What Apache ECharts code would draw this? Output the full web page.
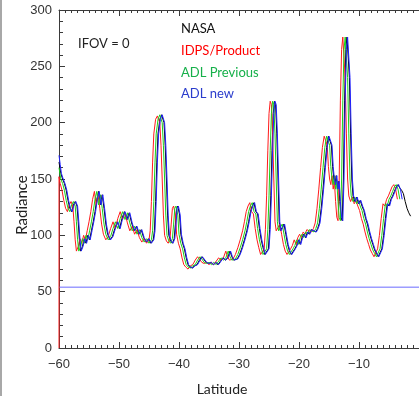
<!DOCTYPE html>
<html>
<head>
<meta charset="utf-8">
<script src="https://cdn.jsdelivr.net/npm/echarts@6/dist/echarts.min.js"></script>
<style>
html,body{margin:0;padding:0;background:#fff;}
#chart{width:419px;height:396px;}
</style>
</head>
<body>
<div id="chart"></div>
<script>
// ---- data: [latitude, radiance] ----
const nasa = [[-60.0,165],[-59.7,155],[-59.4,150],[-59.1,146],[-58.8,140],[-58.5,131],[-58.2,124],[-57.9,121],[-57.6,127],[-57.3,130],[-57.0,126],[-56.8,112],[-56.6,96],[-56.4,86],[-56.1,90],[-55.8,97],[-55.5,93],[-55.2,100],[-54.9,96],[-54.6,104],[-54.3,112],[-54.0,121],[-53.7,132],[-53.4,139],[-53.1,127],[-52.8,136],[-52.5,124],[-52.2,110],[-51.9,101],[-51.5,96],[-51.1,99],[-50.7,106],[-50.3,112],[-49.9,106],[-49.5,115],[-49.1,121],[-48.7,114],[-48.3,120],[-47.9,111],[-47.5,104],[-47.1,108],[-46.7,101],[-46.3,105],[-45.9,98],[-45.5,94],[-45.1,97],[-44.7,93],[-44.3,96],[-44.1,104],[-43.9,130],[-43.7,165],[-43.5,190],[-43.2,203],[-42.9,207],[-42.7,208],[-42.5,200],[-42.3,180],[-42.1,150],[-41.9,118],[-41.7,100],[-41.4,95],[-41.1,93],[-40.8,97],[-40.6,110],[-40.4,124],[-40.2,126],[-39.9,118],[-39.7,101],[-39.4,93],[-39.1,88],[-38.8,80],[-38.5,74],[-38.2,72],[-37.8,71],[-37.4,73],[-37.0,74],[-36.6,78],[-36.2,81],[-35.9,79],[-35.5,76],[-35.1,75],[-34.7,76],[-34.3,74],[-33.9,76],[-33.5,74],[-33.1,77],[-32.7,80],[-32.3,78],[-31.9,80],[-31.5,86],[-31.2,81],[-30.9,78],[-30.6,77],[-30.3,79],[-29.9,83],[-29.5,89],[-29.1,96],[-28.7,104],[-28.4,112],[-28.1,121],[-27.8,126],[-27.5,129],[-27.2,121],[-26.9,119],[-26.6,106],[-26.3,96],[-26.0,89],[-25.7,83],[-25.4,82],[-25.1,88],[-24.9,105],[-24.7,135],[-24.5,175],[-24.3,208],[-24.1,219],[-23.9,216],[-23.7,190],[-23.5,150],[-23.3,112],[-23.1,104],[-22.8,107],[-22.5,110],[-22.2,101],[-21.9,92],[-21.6,86],[-21.3,83],[-21.0,82],[-20.7,88],[-20.4,91],[-20.1,96],[-19.8,92],[-19.5,98],[-19.2,101],[-18.9,98],[-18.6,103],[-18.3,101],[-18.0,105],[-17.6,104],[-17.2,103],[-16.9,106],[-16.6,111],[-16.3,124],[-16.0,141],[-15.7,160],[-15.4,178],[-15.1,188],[-14.8,189],[-14.6,180],[-14.4,161],[-14.2,150],[-14.0,145],[-13.8,153],[-13.6,141],[-13.4,148],[-13.2,130],[-13.0,116],[-12.8,113],[-12.6,150],[-12.4,220],[-12.2,265],[-12.0,276],[-11.8,276],[-11.6,240],[-11.4,190],[-11.2,150],[-11.0,135],[-10.7,130],[-10.4,134],[-10.1,128],[-9.8,131],[-9.5,126],[-9.2,122],[-8.9,115],[-8.6,110],[-8.3,103],[-8.0,97],[-7.7,92],[-7.4,87],[-7.1,84],[-6.8,81],[-6.5,82],[-6.2,88],[-5.9,100],[-5.6,115],[-5.3,128],[-5.0,126],[-4.7,132],[-4.4,135],[-4.1,139],[-3.8,143],[-3.5,145],[-3.2,142],[-2.9,140],[-2.6,137],[-2.3,130],[-2.0,124],[-1.7,120],[-1.4,117]];

const idpsProduct = [[-60.0,0],[-60.0,152],[-59.8,146],[-59.5,140],[-59.2,131],[-58.9,124],[-58.6,121],[-58.3,127],[-58.0,130],[-57.7,126],[-57.5,112],[-57.3,96],[-57.1,86],[-56.8,90],[-56.5,97],[-56.2,93],[-55.9,100],[-55.6,96],[-55.3,104],[-55.0,112],[-54.7,121],[-54.4,132],[-54.1,139],[-53.8,127],[-53.5,136],[-53.2,124],[-52.9,110],[-52.6,101],[-52.2,96],[-51.8,99],[-51.4,106],[-51.0,112],[-50.6,106],[-50.2,115],[-49.8,121],[-49.4,114],[-49.0,120],[-48.6,111],[-48.2,104],[-47.8,108],[-47.4,101],[-47.0,105],[-46.6,98],[-46.2,94],[-45.8,97],[-45.4,93],[-45.0,96],[-44.8,104],[-44.6,130],[-44.4,165],[-44.2,190],[-43.9,203],[-43.6,206],[-43.4,207],[-43.2,200],[-43.0,180],[-42.8,150],[-42.6,118],[-42.4,100],[-42.1,95],[-41.8,93],[-41.5,97],[-41.3,110],[-41.1,124],[-40.9,126],[-40.6,118],[-40.4,101],[-40.1,93],[-39.8,88],[-39.5,80],[-39.2,74],[-38.9,72],[-38.5,70],[-38.1,73],[-37.7,74],[-37.3,78],[-36.9,81],[-36.6,79],[-36.2,76],[-35.8,75],[-35.4,76],[-35.0,74],[-34.6,76],[-34.2,74],[-33.8,77],[-33.4,80],[-33.0,78],[-32.6,80],[-32.2,86],[-31.9,81],[-31.6,78],[-31.3,77],[-31.0,79],[-30.6,83],[-30.2,89],[-29.8,96],[-29.4,104],[-29.1,112],[-28.8,121],[-28.5,126],[-28.2,129],[-27.9,121],[-27.6,119],[-27.3,106],[-27.0,96],[-26.7,89],[-26.4,83],[-26.1,82],[-25.8,88],[-25.6,105],[-25.4,135],[-25.2,175],[-25.0,208],[-24.8,219],[-24.6,216],[-24.4,190],[-24.2,150],[-24.0,112],[-23.8,104],[-23.5,107],[-23.2,110],[-22.9,101],[-22.6,92],[-22.3,86],[-22.0,83],[-21.7,82],[-21.4,88],[-21.1,91],[-20.8,96],[-20.5,92],[-20.2,98],[-19.9,101],[-19.6,98],[-19.3,103],[-19.0,101],[-18.7,105],[-18.3,104],[-17.9,103],[-17.6,106],[-17.3,111],[-17.0,124],[-16.7,141],[-16.4,160],[-16.1,178],[-15.8,188],[-15.5,189],[-15.3,180],[-15.1,161],[-14.9,150],[-14.7,145],[-14.5,153],[-14.3,141],[-14.1,148],[-13.9,130],[-13.7,116],[-13.5,113],[-13.3,150],[-13.1,220],[-12.9,265],[-12.7,276],[-12.5,276],[-12.3,240],[-12.1,190],[-11.9,150],[-11.7,135],[-11.4,130],[-11.1,134],[-10.8,128],[-10.5,131],[-10.2,126],[-9.9,122],[-9.6,115],[-9.3,110],[-9.0,103],[-8.7,97],[-8.4,92],[-8.1,87],[-7.8,84],[-7.5,81],[-7.2,82],[-6.9,88],[-6.6,100],[-6.3,115],[-6.0,128],[-5.7,126],[-5.4,132],[-5.1,135],[-4.8,139],[-4.5,143],[-4.2,145],[-3.9,141],[-3.6,132]];

const adlPrevious = [[-60.0,160],[-59.7,150],[-59.4,146],[-59.1,140],[-58.8,131],[-58.5,124],[-58.2,121],[-57.9,127],[-57.6,130],[-57.3,126],[-57.1,112],[-56.9,96],[-56.7,86],[-56.4,90],[-56.1,97],[-55.8,93],[-55.5,100],[-55.2,96],[-54.9,104],[-54.6,112],[-54.3,121],[-54.0,132],[-53.7,139],[-53.4,127],[-53.1,136],[-52.8,124],[-52.5,110],[-52.2,101],[-51.8,96],[-51.4,99],[-51.0,106],[-50.6,112],[-50.2,106],[-49.8,115],[-49.4,121],[-49.0,114],[-48.6,120],[-48.2,111],[-47.8,104],[-47.4,108],[-47.0,101],[-46.6,105],[-46.2,98],[-45.8,94],[-45.4,97],[-45.0,93],[-44.6,96],[-44.4,104],[-44.2,130],[-44.0,165],[-43.8,190],[-43.5,203],[-43.2,207],[-43.0,207],[-42.8,200],[-42.6,180],[-42.4,150],[-42.2,118],[-42.0,100],[-41.7,95],[-41.4,93],[-41.1,97],[-40.9,110],[-40.7,124],[-40.5,126],[-40.2,118],[-40.0,101],[-39.7,93],[-39.4,88],[-39.1,80],[-38.8,74],[-38.5,72],[-38.1,71],[-37.7,73],[-37.3,74],[-36.9,78],[-36.5,81],[-36.2,79],[-35.8,76],[-35.4,75],[-35.0,76],[-34.6,74],[-34.2,76],[-33.8,74],[-33.4,77],[-33.0,80],[-32.6,78],[-32.2,80],[-31.8,86],[-31.5,81],[-31.2,78],[-30.9,77],[-30.6,79],[-30.2,83],[-29.8,89],[-29.4,96],[-29.0,104],[-28.7,112],[-28.4,121],[-28.1,126],[-27.8,129],[-27.5,121],[-27.2,119],[-26.9,106],[-26.6,96],[-26.3,89],[-26.0,83],[-25.7,82],[-25.4,88],[-25.2,105],[-25.0,135],[-24.8,175],[-24.6,208],[-24.4,219],[-24.2,216],[-24.0,190],[-23.8,150],[-23.6,112],[-23.4,104],[-23.1,107],[-22.8,110],[-22.5,101],[-22.2,92],[-21.9,86],[-21.6,83],[-21.3,82],[-21.0,88],[-20.7,91],[-20.4,96],[-20.1,92],[-19.8,98],[-19.5,101],[-19.2,98],[-18.9,103],[-18.6,101],[-18.3,105],[-17.9,104],[-17.5,103],[-17.2,106],[-16.9,111],[-16.6,124],[-16.3,141],[-16.0,160],[-15.7,178],[-15.4,188],[-15.1,189],[-14.9,180],[-14.7,161],[-14.5,150],[-14.3,145],[-14.1,153],[-13.9,141],[-13.7,148],[-13.5,130],[-13.3,116],[-13.1,113],[-12.9,150],[-12.7,220],[-12.5,265],[-12.3,276],[-12.1,276],[-11.9,240],[-11.7,190],[-11.5,150],[-11.3,135],[-11.0,130],[-10.7,134],[-10.4,128],[-10.1,131],[-9.8,126],[-9.5,122],[-9.2,115],[-8.9,110],[-8.6,103],[-8.3,97],[-8.0,92],[-7.7,87],[-7.4,84],[-7.1,81],[-6.8,82],[-6.5,88],[-6.2,100],[-5.9,115],[-5.6,128],[-5.3,126],[-5.0,132],[-4.7,135],[-4.4,139],[-4.1,143],[-3.8,145],[-3.5,141],[-3.2,132]];

const adlNew = [[-60.0,171],[-59.8,163],[-59.6,155],[-59.3,150],[-59.0,146],[-58.7,140],[-58.4,131],[-58.1,124],[-57.8,121],[-57.5,127],[-57.2,130],[-56.9,126],[-56.7,112],[-56.5,96],[-56.3,86],[-56.0,90],[-55.7,97],[-55.4,93],[-55.1,100],[-54.8,96],[-54.5,104],[-54.2,112],[-53.9,121],[-53.6,132],[-53.3,139],[-53.0,127],[-52.7,136],[-52.4,124],[-52.1,110],[-51.8,101],[-51.4,96],[-51.0,99],[-50.6,106],[-50.2,112],[-49.8,106],[-49.4,115],[-49.0,121],[-48.6,114],[-48.2,120],[-47.8,111],[-47.4,104],[-47.0,108],[-46.6,101],[-46.2,105],[-45.8,98],[-45.4,94],[-45.0,97],[-44.6,93],[-44.2,96],[-44.0,104],[-43.8,130],[-43.6,165],[-43.4,190],[-43.1,203],[-42.8,207],[-42.6,208],[-42.4,200],[-42.2,180],[-42.0,150],[-41.8,118],[-41.6,100],[-41.3,95],[-41.0,93],[-40.7,97],[-40.5,110],[-40.3,124],[-40.1,126],[-39.8,118],[-39.6,101],[-39.3,93],[-39.0,88],[-38.7,80],[-38.4,74],[-38.1,72],[-37.7,71],[-37.3,73],[-36.9,74],[-36.5,78],[-36.1,81],[-35.8,79],[-35.4,76],[-35.0,75],[-34.6,76],[-34.2,74],[-33.8,76],[-33.4,74],[-33.0,77],[-32.6,80],[-32.2,78],[-31.8,80],[-31.4,86],[-31.1,81],[-30.8,78],[-30.5,77],[-30.2,79],[-29.8,83],[-29.4,89],[-29.0,96],[-28.6,104],[-28.3,112],[-28.0,121],[-27.7,126],[-27.4,129],[-27.1,121],[-26.8,119],[-26.5,106],[-26.2,96],[-25.9,89],[-25.6,83],[-25.3,82],[-25.0,88],[-24.8,105],[-24.6,135],[-24.4,175],[-24.2,208],[-24.0,219],[-23.8,216],[-23.6,190],[-23.4,150],[-23.2,112],[-23.0,104],[-22.7,107],[-22.4,110],[-22.1,101],[-21.8,92],[-21.5,86],[-21.2,83],[-20.9,82],[-20.6,88],[-20.3,91],[-20.0,96],[-19.7,92],[-19.4,98],[-19.1,101],[-18.8,98],[-18.5,103],[-18.2,101],[-17.9,105],[-17.5,104],[-17.1,103],[-16.8,106],[-16.5,111],[-16.2,124],[-15.9,141],[-15.6,160],[-15.3,178],[-15.0,188],[-14.7,189],[-14.5,180],[-14.3,161],[-14.1,150],[-13.9,145],[-13.7,153],[-13.5,141],[-13.3,148],[-13.1,130],[-12.9,116],[-12.7,113],[-12.5,150],[-12.3,220],[-12.1,265],[-11.9,276],[-11.7,276],[-11.5,240],[-11.3,190],[-11.1,150],[-10.9,135],[-10.6,130],[-10.3,134],[-10.0,128],[-9.7,131],[-9.4,126],[-9.1,122],[-8.8,115],[-8.5,110],[-8.2,103],[-7.9,97],[-7.6,92],[-7.3,87],[-7.0,84],[-6.7,81],[-6.4,82],[-6.1,88],[-5.8,100],[-5.5,115],[-5.2,128],[-4.9,126],[-4.6,132],[-4.3,135],[-4.0,139],[-3.7,143],[-3.4,145],[-3.1,141],[-2.8,132]];

const referenceLevel = [[-60, 54], [0, 54]];
const xTicks = [-60, -50, -40, -30, -20, -10];
const yTicks = [0, 50, 100, 150, 200, 250, 300];
const legendNames = ['NASA', 'IDPS/Product', 'ADL Previous', 'ADL new'];
const annotation = 'IFOV = 0';

// ---- chart ----
const colors = ['#000000', '#ff1a1a', '#1ad21a', '#2020ff'];
const textColors = ['#111111', '#ff0000', '#16b04a', '#2a3ccc'];
const chart = echarts.init(document.getElementById('chart'), null, {renderer: 'canvas'});
const axisColor = '#3a3a3a';
const minus = v => (v < 0 ? '\u2212' + (-v) : String(v));

const seriesData = [nasa, idpsProduct, adlPrevious, adlNew];
const series = seriesData.map((d, i) => ({
  name: legendNames[i], type: 'line', data: d, showSymbol: false, symbol: 'none',
  lineStyle: {color: colors[i], width: 1}, itemStyle: {color: colors[i]},
  animation: false, z: 3 + i
}));
series.unshift({
  name: 'reference', type: 'line', data: referenceLevel, showSymbol: false, symbol: 'none',
  lineStyle: {color: '#6b6bff', width: 1}, itemStyle: {color: '#6b6bff'}, animation: false, z: 2
});

const textFont = {fontSize: 13, fontFamily: 'Lato'};
chart.setOption({
  backgroundColor: '#ffffff',
  animation: false,
  grid: {left: 59, right: -9, top: 10, bottom: 48},
  xAxis: [{
    type: 'value', min: -60, max: 0, interval: 10, position: 'bottom',
    axisLine: {show: true, onZero: false, lineStyle: {color: axisColor, width: 1}},
    axisTick: {show: true, inside: true, length: 6, lineStyle: {color: axisColor}},
    minorTick: {show: true, splitNumber: 10, length: 3, lineStyle: {color: axisColor}},
    splitLine: {show: false},
    axisLabel: {show: true, color: '#333', fontSize: 13, fontFamily: 'Liberation Sans', margin: 10,
      showMaxLabel: false, formatter: v => (xTicks.indexOf(v) >= 0 ? minus(v) : '')}
  }, {
    type: 'value', min: -60, max: 0, interval: 10, position: 'top',
    axisLine: {show: true, onZero: false, lineStyle: {color: axisColor, width: 1}},
    axisTick: {show: true, inside: true, length: 6, lineStyle: {color: axisColor}},
    minorTick: {show: true, splitNumber: 10, length: 3, lineStyle: {color: axisColor}},
    splitLine: {show: false}, axisLabel: {show: false}
  }],
  yAxis: {
    type: 'value', min: 0, max: 300, interval: 50,
    axisLine: {show: true, onZero: false, lineStyle: {color: axisColor, width: 1}},
    axisTick: {show: true, inside: true, length: 6, lineStyle: {color: axisColor}},
    minorTick: {show: true, splitNumber: 5, length: 4, lineStyle: {color: axisColor}},
    splitLine: {show: false},
    axisLabel: {color: '#333', fontSize: 13, fontFamily: 'Liberation Sans', margin: 7,
      formatter: v => (yTicks.indexOf(v) >= 0 ? String(v) : '')}
  },
  series: series,
  graphic: [
    {type: 'rect', shape: {x: 0, y: 0, width: 2, height: 396}, style: {fill: '#a8a8a8'}},
    {type: 'text', left: 78, top: 37, style: Object.assign({text: annotation, fill: '#222'}, textFont)},
    {type: 'text', left: 181, top: 22, style: Object.assign({text: legendNames[0], fill: textColors[0]}, textFont)},
    {type: 'text', left: 181, top: 44, style: Object.assign({text: legendNames[1], fill: textColors[1]}, textFont)},
    {type: 'text', left: 181, top: 66, style: Object.assign({text: legendNames[2], fill: textColors[2]}, textFont)},
    {type: 'text', left: 181, top: 87, style: Object.assign({text: legendNames[3], fill: textColors[3]}, textFont)},
    {type: 'text', x: 222, y: 389, style: {text: 'Latitude', fill: '#222', fontSize: 14, fontFamily: 'Lato', align: 'center', verticalAlign: 'middle'}},
    {type: 'text', x: 22, y: 205, rotation: Math.PI / 2, style: {text: 'Radiance', fill: '#222', fontSize: 15, fontFamily: 'Lato', align: 'center', verticalAlign: 'middle'}}
  ]
});
</script>
</body>
</html>
